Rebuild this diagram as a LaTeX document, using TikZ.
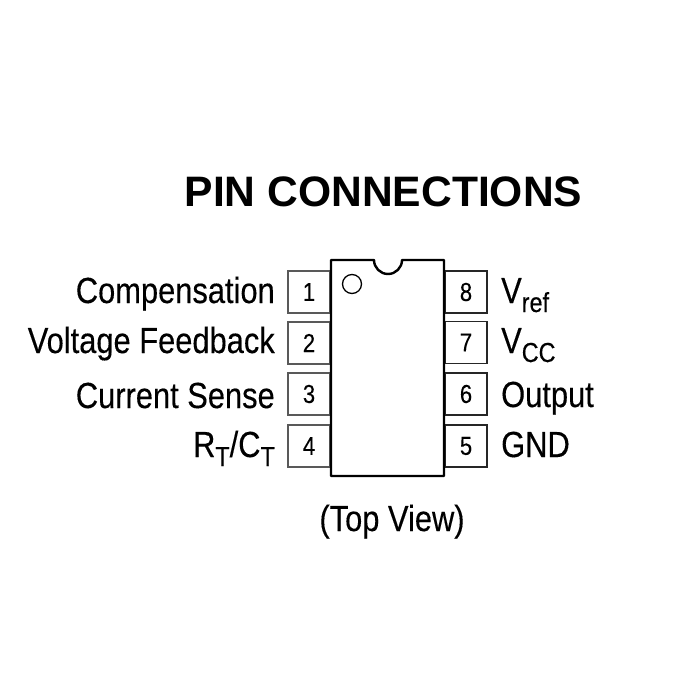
\documentclass[tikz,border=0pt]{standalone}
\usepackage{fontspec}
\usepackage{graphicx}
\setmainfont{Liberation Sans}
\newfontfamily\heavier[FakeBold=0.25]{Liberation Sans}
\newcommand{\nar}[1]{\scalebox{0.85}[1]{#1}}
\newcommand{\subs}[1]{\raisebox{-9pt}{\fontsize{27.5}{30}\selectfont #1}}
\tikzset{
 leftpin/.style={draw=black!65,line width=1.1pt,minimum width=42pt,minimum height=42pt,inner sep=0pt,font=\heavier\fontsize{26}{28}\selectfont,text=black},
 rightpin/.style={leftpin,draw=black!85,line width=1.3pt},
 lab/.style={inner sep=0pt,font=\heavier\fontsize{36.3}{38}\selectfont,text=black},
 pkg/.style={draw=black,line width=2.4pt,fill=white,line join=round},
}
\begin{document}
\begin{tikzpicture}[x=1pt,y=-1pt]
\useasboundingbox (0,0) rectangle (700,700);
\fill[white] (0,0) rectangle (700,700);
\node[inner sep=0pt,anchor=base,font=\bfseries\fontsize{42.6}{46}\selectfont] (title) at (383.5,206.5) {PIN CONNECTIONS};
\foreach \n/\y in {1/292,2/343,3/394,4/446}{
 \node[leftpin] (p\n) at (309,\y) {\nar{\n}};
}
\foreach \n/\y in {8/292,7/342.5,6/394,5/446}{
 \node[rightpin] (p\n) at (466,\y) {\nar{\n}};
}
\draw[pkg] (331,260) -- (374,260) arc[start angle=180,end angle=0,radius=14] -- (444,260) -- (444,476) -- (331,476) -- cycle;
\node[draw=black,circle,line width=1.3pt,minimum size=19pt,inner sep=0pt] (dot) at (352,284) {};
\node[lab,anchor=base east] (c) at (275,303) {\nar{Compensation}};
\node[lab,anchor=base east] (v) at (275,353) {\nar{Voltage Feedback}};
\node[lab,anchor=base east] (s) at (275,408) {\nar{Current Sense}};
\node[lab,anchor=base east] (r) at (275,457) {\nar{R\subs{T}/C\subs{T}}};
\node[lab,anchor=base west] (vr) at (501,303) {\nar{V\subs{ref}}};
\node[lab,anchor=base west] (vc) at (501,353) {\nar{V\subs{CC}}};
\node[lab,anchor=base west] (o) at (501,407) {\nar{Output}};
\node[lab,anchor=base west] (g) at (501,457) {\nar{GND}};
\node[lab,anchor=base] (t) at (392,531) {\nar{(Top View)}};
\end{tikzpicture}
\end{document}
